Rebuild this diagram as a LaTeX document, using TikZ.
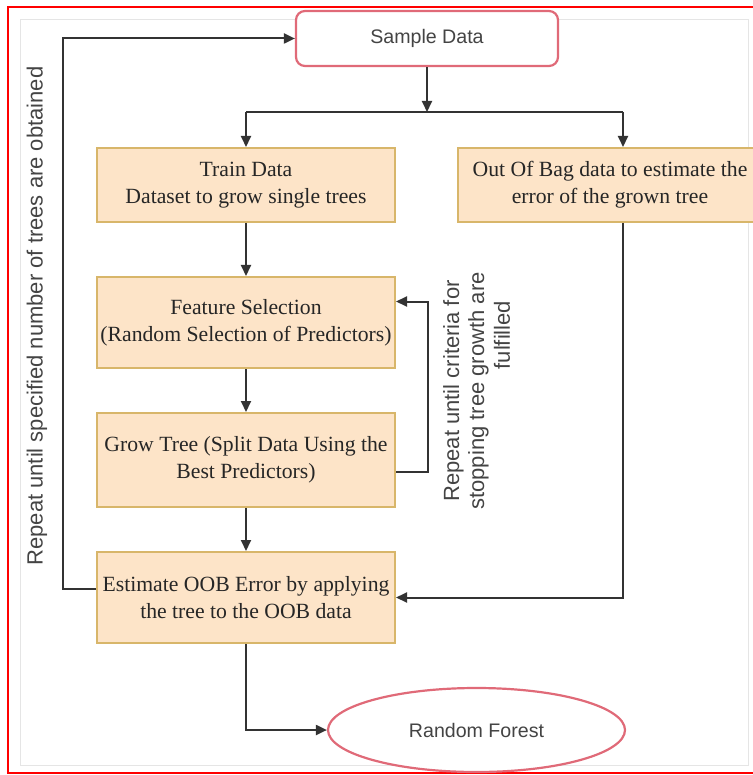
\documentclass[tikz,border=0pt]{standalone}
\usepackage{fontspec}
\setmainfont{Liberation Serif}
\setsansfont{Liberation Sans}
\usetikzlibrary{arrows.meta,shapes.geometric}
\definecolor{boxfill}{HTML}{FDE4C8}
\definecolor{boxline}{HTML}{D8B66A}
\definecolor{pinkline}{HTML}{E06A78}
\definecolor{lncol}{HTML}{333333}
\definecolor{txtgray}{HTML}{444444}
\begin{document}
\begin{tikzpicture}[x=1pt,y=-1pt,
  procbox/.style={draw=boxline, fill=boxfill, line width=2pt, minimum width=298pt,
    align=center, font=\fontsize{21.7}{27}\selectfont, text=black!85, inner sep=0pt},
  termbox/.style={draw=pinkline, fill=white, line width=2.2pt, align=center,
    font=\sffamily\fontsize{19.6}{24}\selectfont, text=txtgray, inner sep=0pt},
  note/.style={rotate=90, align=center, font=\sffamily\fontsize{22}{25}\selectfont, text=txtgray},
  ln/.style={draw=lncol, line width=2pt},
  arr/.style={ln, -{Triangle[length=11pt,width=10pt]}}
]
\useasboundingbox (0,0) rectangle (752,775);
% canvas frames
\draw[gray!20, line width=0.8pt] (20,19) rectangle (748,765);
\draw[red, line width=2pt] (8,7) rectangle (770,773);

% nodes
\node[termbox, rounded corners=9pt, minimum width=262pt, minimum height=55pt] (sample) at (427,38.5) {Sample Data};
\node[procbox, minimum height=74pt] (train) at (246,185) {Train Data\\Dataset to grow single trees};
\node[procbox, minimum width=304pt, minimum height=74pt] (oob) at (610,185) {Out Of Bag data to estimate the\\error of the grown tree};
\node[procbox, minimum height=91pt] (feat) at (246,322.5) {Feature Selection\\(Random Selection of Predictors)};
\node[procbox, minimum height=94pt] (grow) at (246,460) {Grow Tree (Split Data Using the\\Best Predictors)};
\node[procbox, minimum height=91pt] (est) at (246,597.5) {Estimate OOB Error by applying\\the tree to the OOB data};
\node[termbox, ellipse, minimum width=297pt, minimum height=84pt] (rf) at (476.5,730) {Random Forest};

% labels
\node[note] (lt) at (37,316) {Repeat until specified number of trees are obtained};
\node[note] (rt) at (466,391) {Repeat until criteria for\\stopping tree growth are};
\node[note] (rt2) at (502,335) {fulfilled};

% connectors
\coordinate (j) at (427,112);
\coordinate (jl) at (246,112);
\coordinate (jr) at (623,112);
\draw[arr] (sample.south) -- (j);
\draw[ln] (jl) -- (jr);
\draw[arr] (jl) -- (train.north);
\draw[arr] (jr) -- (jr |- oob.north);
\draw[arr] (train.south) -- (feat.north);
\draw[arr] (feat.south) -- (grow.north);
\draw[arr] (grow.south) -- (est.north);
\draw[arr] (jr |- oob.south) |- (est.east);
\draw[arr] (est.south) |- (rf.west);
\draw[arr] ([yshift=9pt]est.west) -- ++(-33,0) |- (sample.west);
\draw[arr] ([yshift=-12pt]grow.east) -- ++(32,0) |- ([yshift=21pt]feat.east);
\end{tikzpicture}
\end{document}
